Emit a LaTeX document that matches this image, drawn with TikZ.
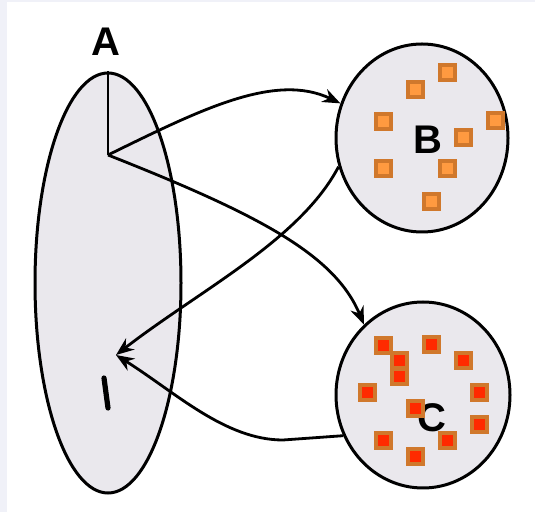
\documentclass[tikz,border=0pt]{standalone}
\usepackage{fontspec}
\setmainfont{Liberation Sans}
\usetikzlibrary{arrows.meta,shapes.geometric}
\definecolor{setfill}{RGB}{234,232,237}
\definecolor{edgebg}{RGB}{240,241,248}
\definecolor{squareedge}{RGB}{208,120,44}
\definecolor{orangefill}{RGB}{255,154,64}
\definecolor{redfill}{RGB}{255,42,0}
\tikzset{
  setshape/.style={ellipse, draw=black, line width=1.5pt, fill=setfill, inner sep=0pt},
  setlabel/.style={font=\fontsize{20}{24}\selectfont\bfseries, inner sep=0pt},
  elem/.style={rectangle, draw=squareedge, line width=2pt, minimum size=7.5pt, inner sep=0pt},
  elemB/.style={elem, fill=orangefill},
  elemC/.style={elem, fill=redfill},
  mapline/.style={line width=1.4pt, -{Stealth[length=9pt,width=7pt]}},
}
\begin{document}
\begin{tikzpicture}[x=0.5pt, y=-0.5pt]
% canvas with a pale strip along the left and top edges
\fill[white] (0,0) rectangle (535,512);
\fill[edgebg] (0,0) rectangle (7,512);
\fill[edgebg] (0,0) rectangle (535,2);
\useasboundingbox (0,0) rectangle (535,512);

% the three sets
\node[setshape, minimum width=73pt, minimum height=210pt] (A) at (108,283) {};
\node[setshape, minimum width=86pt, minimum height=94pt] (B) at (422,138) {};
\node[setshape, minimum width=87pt, minimum height=93pt] (C) at (423,395) {};

% set names
\node[setlabel] (labA) at (106,42) {A};
\node[setlabel] (labB) at (428,140) {B};
\node[setlabel] (labC) at (432,418) {C};

% elements of B
\foreach \x/\y [count=\i] in {447/73, 415/90, 383/122, 495/121, 463/138, 383/169, 447/169, 431/202}
  \node[elemB] (b\i) at (\x,\y) {};

% elements of C
\foreach \x/\y [count=\i] in {383/346, 431/345, 399/361, 463/361, 399/377, 367/393, 479/393, 415/409, 479/425, 383/441, 447/441, 415/457}
  \node[elemC] (c\i) at (\x,\y) {};

% hub point inside A and the target point inside A
\coordinate (hub) at (108,155);
\coordinate (tgt) at (116,355);
\coordinate (bend) at (283,440);

\draw[line width=1.4pt] (A.north) -- (hub);

% maps between the sets
\draw[mapline] (hub) .. controls (200,110) and (275,72) .. (B.157);
\draw[mapline] (hub) .. controls (260,215) and (335,255) .. (C.130);
\draw[mapline] (B.199) .. controls (300,240) and (200,290) .. (tgt);
\draw[mapline] (C.207) -- (bend) .. controls (225,440) and (175,392) .. (tgt);

% mark at the image point
\draw[line width=2.6pt, line cap=round] (104,378) -- (108,408);
\end{tikzpicture}
\end{document}
